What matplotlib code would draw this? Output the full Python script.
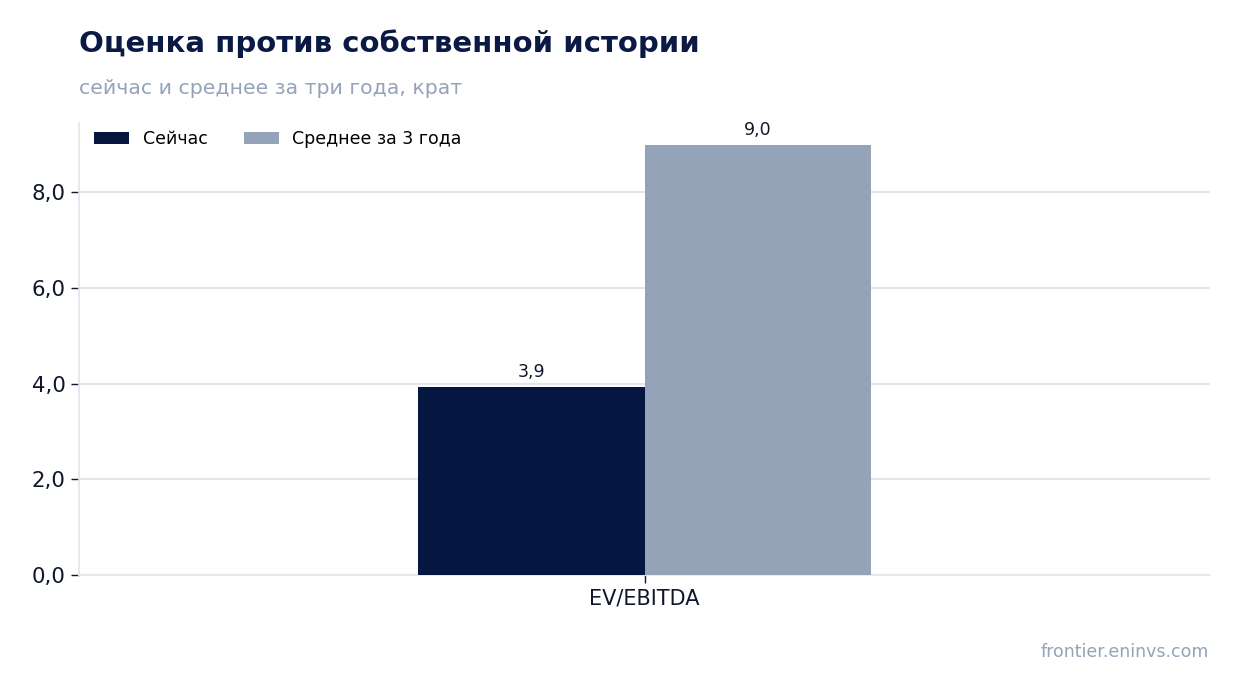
import matplotlib
matplotlib.use("Agg")
import matplotlib.pyplot as plt
import numpy as np

categories = ["EV/EBITDA"]
series_names = ["Сейчас", "Среднее за 3 года"]
now_values = [3.94]
avg_values = [9.0]
title = "Оценка против собственной истории"
subtitle = "сейчас и среднее за три года, крат"
footer = "frontier.eninvs.com"

c_now = "#051641"
c_avg = "#94a3b8"
grid_c = "#e2e6ee"
text_c = "#0f172a"

fig = plt.figure(figsize=(12.41, 6.93), dpi=100)
ax = fig.add_axes([79/1241, 1-575/693, (1210-79)/1241, (575-123)/693])

x = np.arange(len(categories))
w = 0.2
b1 = ax.bar(x - w/2, now_values, w, color=c_now, label=series_names[0], zorder=3)
b2 = ax.bar(x + w/2, avg_values, w, color=c_avg, label=series_names[1], zorder=3)
for bars, vals in ((b1, now_values), (b2, avg_values)):
    for r, v in zip(bars, vals):
        ax.annotate(f"{v:.1f}".replace(".", ","), (r.get_x() + r.get_width()/2, v),
                    xytext=(0, 4), textcoords="offset points", ha="center", va="bottom",
                    fontsize=12.5, color=text_c)

ax.set_xlim(-0.5, 0.5)
ax.set_ylim(0, 9.45)
ax.set_xticks(x)
ax.set_xticklabels(categories, fontsize=15, color=text_c)
ax.set_yticks([0, 2, 4, 6, 8])
ax.set_yticklabels([f"{v:.1f}".replace(".", ",") for v in [0, 2, 4, 6, 8]], fontsize=15.3, color=text_c)
ax.yaxis.grid(True, color=grid_c, linewidth=1.5, zorder=0)
ax.set_axisbelow(True)
for s in ("top", "right"):
    ax.spines[s].set_visible(False)
for s in ("left", "bottom"):
    ax.spines[s].set_color(grid_c)
    ax.spines[s].set_linewidth(1.2)
ax.tick_params(axis="both", colors=text_c, length=6, width=1, labelcolor=text_c)

ax.legend(loc="upper left", bbox_to_anchor=(8/1131, 1.0), ncol=2, frameon=False, fontsize=12.5,
          handlelength=2.0, handleheight=0.7, handletextpad=0.8, columnspacing=2.1,
          borderaxespad=0.2, borderpad=0.2)

fig.text(79/1241, 1-44/693, title, fontsize=21, fontweight="bold", color="#0b1a45", va="center", ha="left")
fig.text(79/1241, 1-88/693, subtitle, fontsize=14.7, color=c_avg, va="center", ha="left")
fig.text(1209/1241, 1-652/693, footer, fontsize=12.5, color=c_avg, va="center", ha="right")

fig.savefig("out.png", dpi=100)
